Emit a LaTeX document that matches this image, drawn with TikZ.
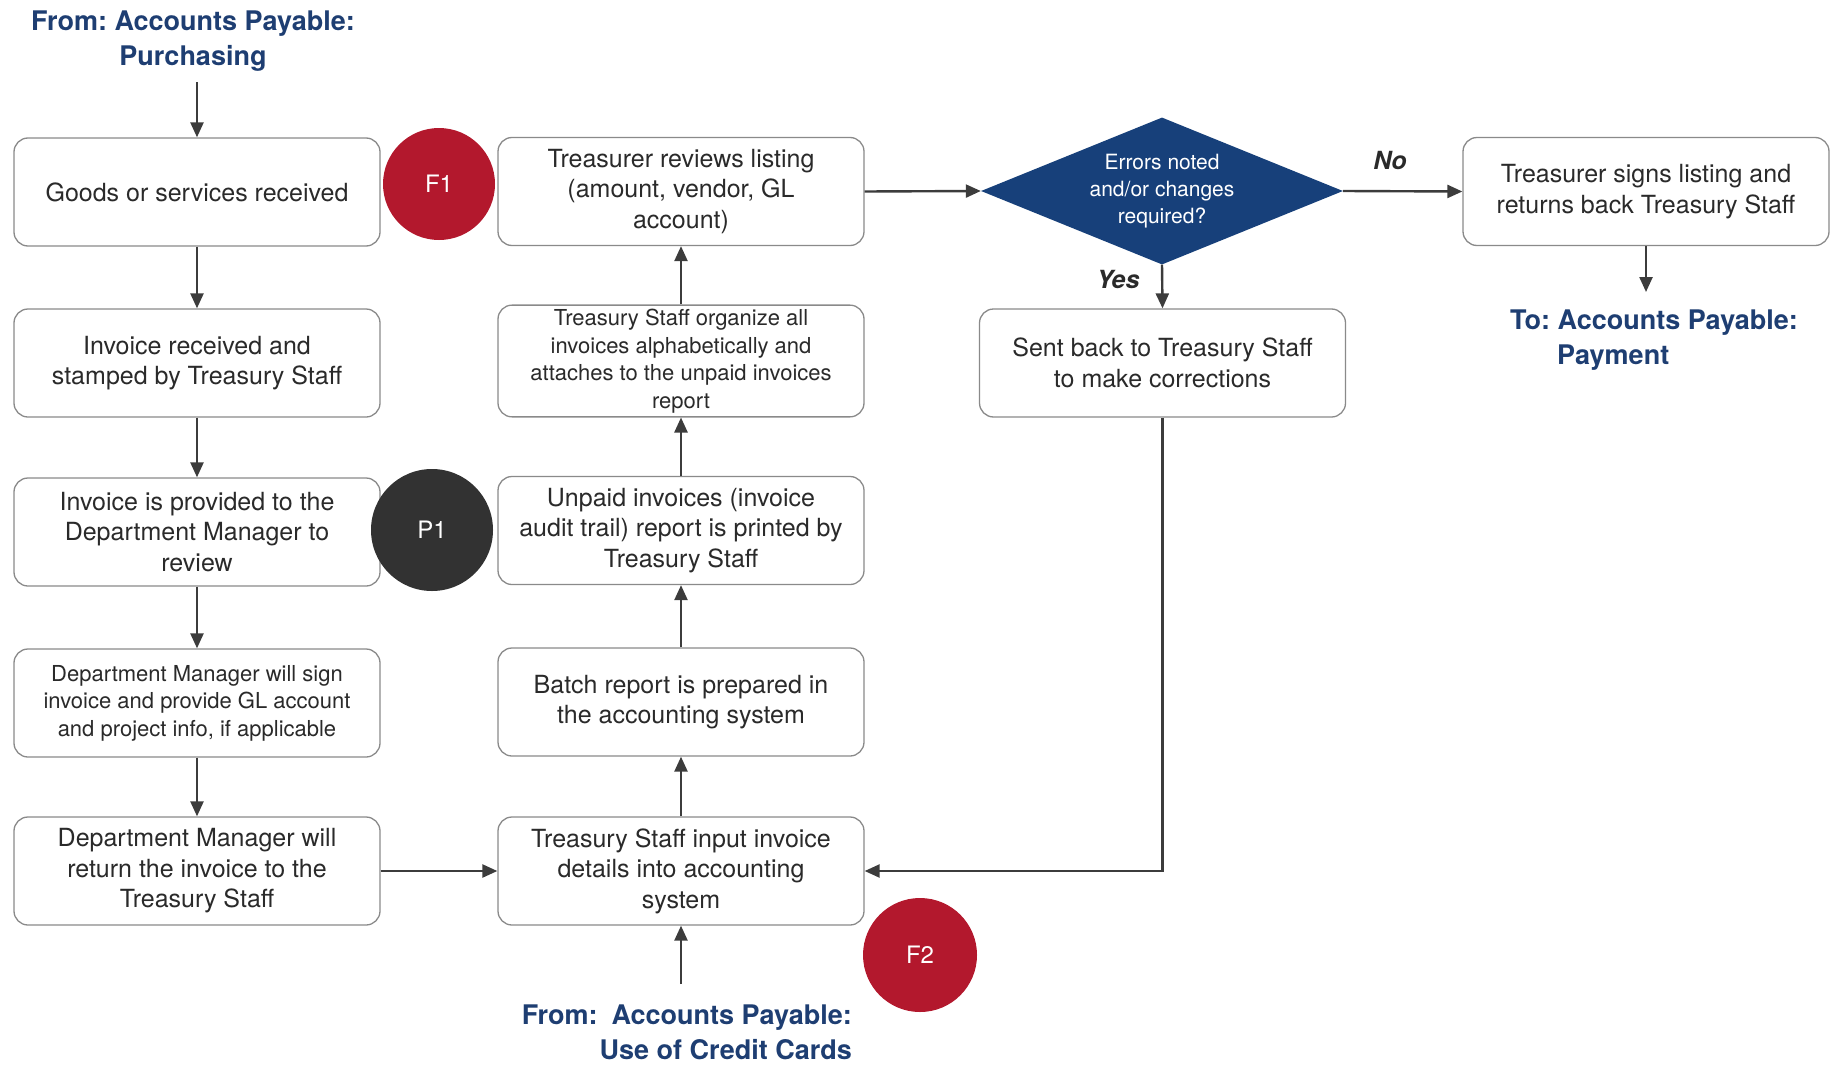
\documentclass[tikz,border=0pt]{standalone}
\usepackage{fontspec}
\setmainfont{TeX Gyre Heros}
\usetikzlibrary{arrows.meta,shapes.geometric}

\definecolor{ink}{HTML}{2A2A2A}
\definecolor{edge}{HTML}{8A8A8A}
\definecolor{wire}{HTML}{3C3C3C}
\definecolor{navy}{HTML}{17407A}
\definecolor{labelblue}{HTML}{1E3E72}
\definecolor{flagred}{HTML}{B3182D}
\definecolor{flagdark}{HTML}{323232}

\tikzset{
  stepbox/.style={draw=edge, line width=1.3pt, fill=white, rounded corners=14pt,
    minimum width=366pt, minimum height=108pt, align=center, text=ink,
    inner sep=4pt, font=\fontsize{25}{30.5}\selectfont},
  smallbox/.style={stepbox, font=\fontsize{22}{27.5}\selectfont},
  decision/.style={diamond, fill=navy, draw=none, minimum width=362pt,
    minimum height=147pt, inner sep=0pt, aspect=2.46, text=white,
    align=center, font=\fontsize{21}{27}\selectfont},
  flag/.style={circle, minimum size=#1, inner sep=0pt, text=white,
    font=\fontsize{24}{24}\selectfont},
  portal/.style={text=labelblue, font=\frenchspacing\bfseries\fontsize{27}{35}\selectfont, inner sep=0pt},
  flow/.style={draw=wire, line width=2.4pt, -{Triangle[length=15pt,width=13pt]}},
  tag/.style={font=\bfseries\itshape\fontsize{25}{25}\selectfont, text=ink}
}

\begin{document}
\begin{tikzpicture}[x=1pt,y=-1pt]
\useasboundingbox (0,0) rectangle (1835,1065);

% entry and exit labels
\node[portal, align=center] (src1) at (193,41) {From: Accounts Payable:\\Purchasing};
\node[portal, align=left, anchor=west] (dst) at (1510,340) {To: Accounts Payable:\\\hspace*{47pt}Payment};
\node[portal, align=right, anchor=east] (src2) at (852,1032) {From:\hspace{14pt}Accounts Payable:\\Use of Credit Cards};
\coordinate (src1end) at (197,82);
\coordinate (dstend) at (1646,292);
\coordinate (src2end) at (681,984);

% left column
\node[stepbox] (b1) at (197,192) {Goods or services received};
\node[stepbox] (b2) at (197,363) {Invoice received and\\stamped by Treasury Staff};
\node[stepbox] (b3) at (197,532) {Invoice is provided to the\\Department Manager to\\review};
\node[smallbox] (b4) at (197,703) {Department Manager will sign\\invoice and provide GL account\\and project info, if applicable};
\node[stepbox] (b5) at (197,871) {Department Manager will\\return the invoice to the\\Treasury Staff};

% middle column
\node[stepbox] (m1) at (681,191.5) {Treasurer reviews listing\\(amount, vendor, GL\\account)};
\node[smallbox] (m2) at (681,361) {Treasury Staff organize all\\invoices alphabetically and\\attaches to the unpaid invoices\\report};
\node[stepbox] (m3) at (681,530.5) {Unpaid invoices (invoice\\audit trail) report is printed by\\Treasury Staff};
\node[stepbox] (m4) at (681,702) {Batch report is prepared in\\the accounting system};
\node[stepbox] (m5) at (681,871) {Treasury Staff input invoice\\details into accounting\\system};

% decision and right column
\node[decision] (d) at (1162,191) {Errors noted\\and/or changes\\required?};
\node[stepbox] (s) at (1162.5,363) {Sent back to Treasury Staff\\to make corrections};
\node[stepbox] (t) at (1646,191.5) {Treasurer signs listing and\\returns back Treasury Staff};

% branch labels
\node[tag] (no) at (1390,160) {No};
\node[tag] (yes) at (1118,279) {Yes};

% connectors
\draw[flow] (src1end) -- (b1.north);
\draw[flow] (b1) -- (b2);
\draw[flow] (b2) -- (b3);
\draw[flow] (b3) -- (b4);
\draw[flow] (b4) -- (b5);
\draw[flow] (b5.east) -- (m5.west);
\draw[flow] (src2end) -- (m5.south);
\draw[flow] (m5) -- (m4);
\draw[flow] (m4) -- (m3);
\draw[flow] (m3) -- (m2);
\draw[flow] (m2) -- (m1);
\draw[flow] (m1.east) -- (d.west);
\draw[flow] (d.east) -- (t.west);
\draw[flow] (d.south) -- (s.north);
\draw[flow] (s.south) |- (m5.east);
\draw[flow] (t.south) -- (dstend);

% control markers
\node[flag=112pt, fill=flagred] (f1) at (439,184) {F1};
\node[flag=122pt, fill=flagdark] (p1) at (432,530) {P1};
\node[flag=114pt, fill=flagred] (f2) at (920,955) {F2};
\end{tikzpicture}
\end{document}
